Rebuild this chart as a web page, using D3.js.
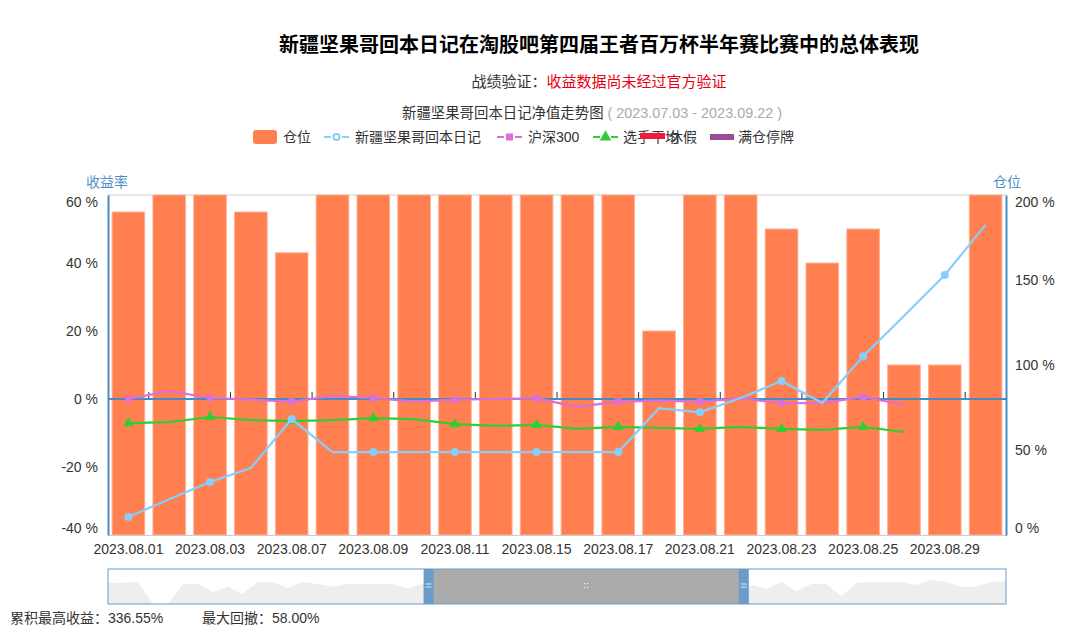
<!DOCTYPE html>
<html>
<head>
<meta charset="utf-8">
<script src="https://cdn.jsdelivr.net/npm/d3@7"></script>
<style>
  body { margin: 0; background: #fff; }
  svg text { font-family: "Liberation Sans", Arial, "Noto Sans CJK SC", sans-serif; }
</style>
</head>
<body>
<div id="chart"></div>
<script>
// categories (trading days shown in the zoom window)
var dates = ["2023.08.01", "2023.08.02", "2023.08.03", "2023.08.04", "2023.08.07", "2023.08.08",
    "2023.08.09", "2023.08.10", "2023.08.11", "2023.08.14", "2023.08.15", "2023.08.16",
    "2023.08.17", "2023.08.18", "2023.08.21", "2023.08.22", "2023.08.23", "2023.08.24",
    "2023.08.25", "2023.08.28", "2023.08.29", "2023.08.30"];

// 仓位 (%), right axis
var position = [190, 200, 200, 190, 166, 200, 200, 200, 200, 200, 200, 200,
    200, 120, 200, 200, 180, 160, 180, 100, 100, 200];

// 新疆坚果哥回本日记 (%), left axis
var netValue = [-34.7, -29.5, -24.4, -20.3, -5.9, -15.6, -15.6, -15.6, -15.6, -15.6, -15.6, -15.6,
    -15.6, -2.7, -3.9, 0.3, 5.3, -1.2, 12.6, 24.4, 36.5, 51.2];

// 沪深300 (%)
var hs300 = [0, 2.4, 0.3, -0.2, -0.8, 0.9, 0.3, -0.8, -0.2, 0, 0.2, -2.3,
    -0.8, -0.5, -0.8, 0.2, -1.2, -1.2, 0.6, -1.7, null, null];

// 选手平均 (%)
var playerAvg = [-7.1, -6.8, -5.3, -6.2, -6.5, -6.2, -5.6, -5.9, -7.4, -7.9, -7.6, -8.8,
    -8.2, -8.5, -8.8, -8.2, -8.8, -9.1, -8.2, -9.7, null, null];

// axis ticks
var leftTicks = [-40, -20, 0, 20, 40, 60];
var rightTicks = [0, 50, 100, 150, 200];

// data zoom shadow over the whole period 2023.07.03 - 2023.09.22
var shadowValues = [60, 61, 63, 0, 0, 57, 57, 34, 49, 29, 63, 63, 46, 63, 57, 49, 57, 57, 57, 57, 45, 57,
    57, 63, 63, 57, 49, 63, 63, 63, 63, 63, 63, 63, 63, 40, 63, 63, 60, 57, 60, 34, 34,
    54, 43, 63, 37, 57, 57, 23, 60, 63, 63, 63, 54, 69, 63, 49, 49, 63, 66];
var zoomStart = 0.357, zoomEnd = 0.708;

var W = 1080, H = 633;
var margin = {left: 108, right: 74, top: 195, bottom: 98};
var pLeft = margin.left, pRight = W - margin.right, pTop = margin.top, pBottom = H - margin.bottom;

var svg = d3.select("#chart").append("svg").attr("width", W).attr("height", H);

// titles
svg.append("text").attr("x", 599).attr("y", 52).attr("text-anchor", "middle")
    .style("font-size", "20px").style("font-weight", "bold").attr("fill", "#000")
    .text("新疆坚果哥回本日记在淘股吧第四届王者百万杯半年赛比赛中的总体表现");

var sub = svg.append("text").attr("x", 599).attr("y", 87).attr("text-anchor", "middle")
    .style("font-size", "15px");
sub.append("tspan").attr("fill", "#333").text("战绩验证：");
sub.append("tspan").attr("fill", "#e60012").text("收益数据尚未经过官方验证");

var sub2 = svg.append("text").attr("x", 592).attr("y", 118).attr("text-anchor", "middle")
    .style("font-size", "14.4px");
sub2.append("tspan").attr("fill", "#333").text("新疆坚果哥回本日记净值走势图 ");
sub2.append("tspan").attr("fill", "#aaa").text("( 2023.07.03 - 2023.09.22 )");

// scales
var x = d3.scaleBand().domain(dates).range([pLeft, pRight]).paddingInner(0.2).paddingOuter(0.1);
var yL = d3.scaleLinear().domain([-40, 60]).range([pBottom, pTop]);
var yR = d3.scaleLinear().domain([0, 200]).range([pBottom, pTop]);
var cx = function(i) { return x(dates[i]) + x.bandwidth() / 2; };

// top border
svg.append("line").attr("x1", pLeft).attr("x2", pRight).attr("y1", pTop).attr("y2", pTop)
    .attr("stroke", "#ccc");

// bars
svg.append("g").selectAll("rect").data(position).enter().append("rect")
    .attr("x", function(d, i) { return x(dates[i]); })
    .attr("width", x.bandwidth())
    .attr("y", function(d) { return yR(d); })
    .attr("height", function(d) { return pBottom - yR(d); })
    .attr("fill", "#ff7f50")
    .attr("stroke", "#ffb396").attr("stroke-width", 1);

// x axis at the bottom (labels)
var xAxis = d3.axisBottom(x).tickSize(0).tickPadding(9)
    .tickFormat(function(d, i) { return i % 2 === 0 ? d : ""; });
var gx = svg.append("g").attr("transform", "translate(0," + pBottom + ")").call(xAxis);
gx.select(".domain").attr("stroke", "#ccc");
gx.selectAll("text").style("font-size", "14px").attr("fill", "#333");

// zero line with ticks
var step = x.step();
svg.append("line").attr("x1", pLeft).attr("x2", pRight).attr("y1", yL(0)).attr("y2", yL(0))
    .attr("stroke", "#4a8ac4").attr("stroke-width", 2);
svg.append("g").selectAll("line").data(dates.filter(function(d, i) { return i % 2 === 1; }))
    .enter().append("line")
    .attr("x1", function(d) { return x(d) - step * 0.1; })
    .attr("x2", function(d) { return x(d) - step * 0.1; })
    .attr("y1", yL(0) - 1).attr("y2", yL(0) - 7)
    .attr("stroke", "#333");

// left axis
var gl = svg.append("g").attr("transform", "translate(" + pLeft + ",0)")
    .call(d3.axisLeft(yL).tickValues(leftTicks).tickSize(0).tickPadding(10)
        .tickFormat(function(d) { return d + " %"; }));
gl.select(".domain").attr("stroke", "#4a8ac4").attr("stroke-width", 2);
gl.selectAll("text").style("font-size", "14px").attr("fill", "#333")
    .attr("dy", function(d) { return d === 60 ? "0.8em" : d === -40 ? "-0.15em" : "0.32em"; });

// right axis
var gr = svg.append("g").attr("transform", "translate(" + pRight + ",0)")
    .call(d3.axisRight(yR).tickValues(rightTicks).tickSize(0).tickPadding(9)
        .tickFormat(function(d) { return d + " %"; }));
gr.select(".domain").attr("stroke", "#4a8ac4").attr("stroke-width", 2);
gr.selectAll("text").style("font-size", "14px").attr("fill", "#333")
    .attr("dy", function(d) { return d === 200 ? "0.8em" : d === 0 ? "-0.15em" : "0.32em"; });

// axis names
svg.append("text").attr("x", 107).attr("y", 187).attr("text-anchor", "middle")
    .style("font-size", "14px").attr("fill", "#4f8fc8").text("收益率");
svg.append("text").attr("x", 1007).attr("y", 187).attr("text-anchor", "middle")
    .style("font-size", "14px").attr("fill", "#4f8fc8").text("仓位");

// lines
var series = [
    {values: hs300, color: "#da70d6", symbol: d3.symbolSquare, size: 45},
    {values: playerAvg, color: "#32cd32", symbol: d3.symbolTriangle, size: 50},
    {values: netValue, color: "#87cefa", symbol: d3.symbolCircle, size: 50}
];
var line = d3.line()
    .defined(function(d) { return d != null; })
    .x(function(d, i) { return cx(i); })
    .y(function(d) { return yL(d); });

series.forEach(function(s) {
    svg.append("path").datum(s.values).attr("d", line)
        .attr("fill", "none").attr("stroke", s.color).attr("stroke-width", 2.2);
    svg.append("g").selectAll("path")
        .data(s.values.map(function(v, i) { return {v: v, i: i}; })
            .filter(function(d) { return d.v != null && d.i % 2 === 0; }))
        .enter().append("path")
        .attr("d", d3.symbol().type(s.symbol).size(s.size))
        .attr("transform", function(d) { return "translate(" + cx(d.i) + "," + yL(d.v) + ")"; })
        .attr("fill", s.color);
});

// legend
var legend = svg.append("g").style("font-size", "14px");
var ly = 137;
legend.append("rect").attr("x", 253).attr("y", 130).attr("width", 24).attr("height", 14)
    .attr("rx", 3).attr("fill", "#ff7f50");
legend.append("text").attr("x", 283).attr("y", ly + 5).attr("fill", "#333").text("仓位");

function lineIcon(x0, color, symbol, size, hollow) {
    legend.append("line").attr("x1", x0).attr("x2", x0 + 7).attr("y1", ly).attr("y2", ly)
        .attr("stroke", color).attr("stroke-width", 2);
    legend.append("line").attr("x1", x0 + 18).attr("x2", x0 + 25).attr("y1", ly).attr("y2", ly)
        .attr("stroke", color).attr("stroke-width", 2);
    legend.append("path").attr("d", d3.symbol().type(symbol).size(size))
        .attr("transform", "translate(" + (x0 + 12.5) + "," + ly + ")")
        .attr("fill", hollow ? "#fff" : color)
        .attr("stroke", hollow ? color : "none").attr("stroke-width", 2);
}
lineIcon(324, "#87cefa", d3.symbolCircle, 30, true);
legend.append("text").attr("x", 355).attr("y", ly + 5).attr("fill", "#333").text("新疆坚果哥回本日记");
lineIcon(497, "#da70d6", d3.symbolSquare, 50, false);
legend.append("text").attr("x", 528).attr("y", ly + 5).attr("fill", "#333").text("沪深300");
lineIcon(593, "#32cd32", d3.symbolTriangle, 60, false);
legend.append("text").attr("x", 623).attr("y", ly + 5).attr("fill", "#333").text("选手平均");
legend.append("text").attr("x", 669).attr("y", ly + 5).attr("fill", "#333").text("休假");
legend.append("rect").attr("x", 640).attr("y", 133).attr("width", 25).attr("height", 6)
    .attr("fill", "#ee1c3c");
legend.append("rect").attr("x", 710).attr("y", 134).attr("width", 24).attr("height", 6)
    .attr("fill", "#9c4b98");
legend.append("text").attr("x", 738).attr("y", ly + 5).attr("fill", "#333").text("满仓停牌");

// data zoom slider
var zTop = 569, zBot = 604;
var zx = d3.scaleLinear().domain([0, shadowValues.length - 1]).range([pLeft, pRight]);
var zy = d3.scaleLinear().domain([0, 100]).range([zBot, zTop]);
var zoom = svg.append("g");
zoom.append("path").datum(shadowValues)
    .attr("d", d3.area().x(function(d, i) { return zx(i); }).y0(zBot).y1(function(d) { return zy(d); }))
    .attr("fill", "#eeeeee");
var hx0 = pLeft + (pRight - pLeft) * zoomStart, hx1 = pLeft + (pRight - pLeft) * zoomEnd;
zoom.append("rect").attr("x", hx0).attr("y", zTop).attr("width", hx1 - hx0).attr("height", zBot - zTop)
    .attr("fill", "#aaaaaa");
zoom.append("rect").attr("x", pLeft).attr("y", zTop).attr("width", pRight - pLeft).attr("height", zBot - zTop)
    .attr("fill", "none").attr("stroke", "#6b9bcc").attr("stroke-width", 1);
[hx0, hx1].forEach(function(hx) {
    zoom.append("rect").attr("x", hx - 5).attr("y", zTop).attr("width", 10).attr("height", zBot - zTop)
        .attr("fill", "#6b9bc9");
    [584, 587].forEach(function(yy) {
        zoom.append("line").attr("x1", hx - 3).attr("x2", hx + 3).attr("y1", yy).attr("y2", yy)
            .attr("stroke", "#dde8f3").attr("stroke-width", 1);
    });
});
var mid = (hx0 + hx1) / 2;
[[-1, 583], [1, 583], [-1, 587], [1, 587]].forEach(function(p) {
    zoom.append("rect").attr("x", mid + p[0] * 1.5 - 0.5).attr("y", p[1]).attr("width", 1).attr("height", 1.2)
        .attr("fill", "#fff");
});

// summary
svg.append("text").attr("x", 10).attr("y", 623).style("font-size", "14px").attr("fill", "#333")
    .text("累积最高收益：336.55%");
svg.append("text").attr("x", 202).attr("y", 623).style("font-size", "14px").attr("fill", "#333")
    .text("最大回撤：58.00%");
</script>
</body>
</html>
